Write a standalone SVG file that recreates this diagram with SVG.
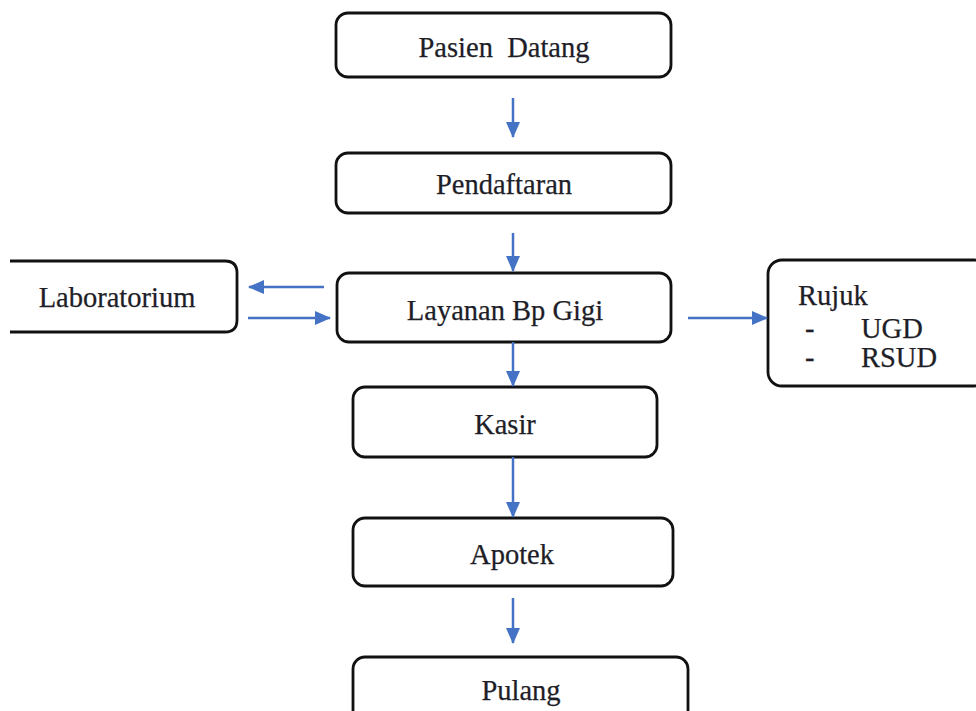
<svg xmlns="http://www.w3.org/2000/svg" width="976" height="711" viewBox="0 0 976 711">
<defs>
<marker id="ah" markerWidth="16" markerHeight="14" refX="15" refY="7" orient="auto" markerUnits="userSpaceOnUse" viewBox="0 0 16 14">
<path d="M0,0 L16,7 L0,14 z" fill="#4472C4"/>
</marker>
<style>
.box{fill:#fff;stroke:#111;stroke-width:2.8}
.t{font-family:"Liberation Serif","Times New Roman",serif;font-size:28.5px;fill:#1e1e28;stroke:#1e1e28;stroke-width:0.25;text-anchor:middle}
.tl{font-family:"Liberation Serif","Times New Roman",serif;font-size:28.5px;fill:#1e1e28;stroke:#1e1e28;stroke-width:0.25}
.c{stroke:#4472C4;stroke-width:2.5;fill:none;marker-end:url(#ah)}
</style>
</defs>
<rect width="976" height="711" fill="#fff"/>
<g id="pasien"><rect class="box" x="336" y="13" width="335" height="64" rx="12"/><text class="t" x="504" y="57" xml:space="preserve">Pasien  Datang</text></g>
<g id="pendaftaran"><rect class="box" x="336" y="153" width="335" height="60" rx="12"/><text class="t" x="504" y="194">Pendaftaran</text></g>
<g id="layanan"><rect class="box" x="337" y="273" width="334" height="69" rx="12"/><text class="t" x="505" y="320">Layanan Bp Gigi</text></g>
<g id="laboratorium"><path class="box" d="M10,261 H225 Q237,261 237,273 V320 Q237,332 225,332 H10"/><text class="t" x="117" y="307">Laboratorium</text></g>
<g id="rujuk"><rect class="box" x="768" y="260" width="220" height="126" rx="14"/><text class="tl" x="798" y="305">Rujuk</text><text class="tl" x="805" y="338">-</text><text class="tl" x="861" y="338">UGD</text><text class="tl" x="805" y="367">-</text><text class="tl" x="861" y="367">RSUD</text></g>
<g id="kasir"><rect class="box" x="353" y="387" width="304" height="70" rx="12"/><text class="t" x="505" y="434">Kasir</text></g>
<g id="apotek"><rect class="box" x="353" y="518" width="320" height="68" rx="12"/><text class="t" x="512" y="564">Apotek</text></g>
<g id="pulang"><rect class="box" x="353" y="657" width="335" height="70" rx="12"/><text class="t" x="521" y="700">Pulang</text></g>
<g id="connectors">
<line class="c" x1="513" y1="98" x2="513" y2="137"/>
<line class="c" x1="513" y1="233" x2="513" y2="271"/>
<line class="c" x1="324" y1="287" x2="249" y2="287"/>
<line class="c" x1="248" y1="318" x2="330" y2="318"/>
<line class="c" x1="688" y1="318" x2="767" y2="318"/>
<line class="c" x1="513" y1="342" x2="513" y2="386"/>
<line class="c" x1="513" y1="457" x2="513" y2="517"/>
<line class="c" x1="513" y1="598" x2="513" y2="643"/>
</g>
</svg>
